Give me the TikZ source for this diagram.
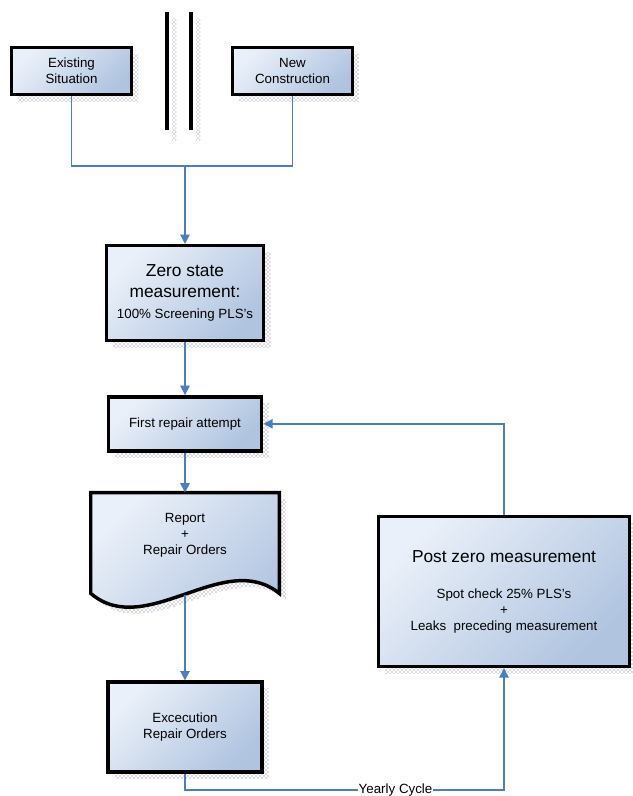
\documentclass[tikz,border=0pt]{standalone}
\usepackage{fontspec}
\setmainfont{Liberation Sans}
\usepackage{tikz}
\usetikzlibrary{arrows.meta,positioning,calc,shadows,patterns,backgrounds}
\definecolor{boxlight}{RGB}{234,240,249}
\definecolor{boxdark}{RGB}{176,196,224}
\definecolor{linkblue}{RGB}{74,126,193}
\definecolor{shadowgray}{RGB}{90,100,125}

\begin{document}
\begin{tikzpicture}[x=0.75pt,y=-0.75pt,>={Triangle[length=7pt,width=7pt]},every node/.style={font=\fontsize{10}{12}\selectfont}]
\tikzstyle{stage}=[draw=black,line width=2.6pt,align=center,top color=boxlight,bottom color=boxdark,shading angle=45,general shadow={shadow xshift=5pt,shadow yshift=-5pt,pattern=crosshatch dots,pattern color=shadowgray}]
\tikzstyle{link}=[draw=linkblue,line width=1.1pt]
\useasboundingbox (0,0) rectangle (632,796);
% separator bars
\foreach \x in {167,191} {
  \fill[pattern=crosshatch dots,pattern color=shadowgray] (\x+5,18) rectangle (\x+9,140);
  \draw[line width=2.6pt] (\x,12) -- (\x,130);
}
\node[stage,minimum width=90pt,minimum height=35pt] (exist) at (71.5,71) {Existing\\Situation};
\node[stage,minimum width=90pt,minimum height=35pt] (newc) at (292.5,71) {New\\Construction};
\node[stage,minimum width=118pt,minimum height=71pt,font=\fontsize{13}{15.75}\selectfont] (zero) at (185,293) {Zero state\\measurement:\\{\fontsize{10}{12}\selectfont 100\% Screening PLS's}};
\node[stage,minimum width=115pt,minimum height=40.5pt,below=39.75pt of zero] (first) {First repair attempt};
\node[minimum width=141pt,minimum height=64pt,align=center,below=30pt of first] (report) {Report\\+\\Repair Orders};
\begin{scope}[on background layer]
\path[stage] (report.north west) -- (report.north east) -- ($(report.south east)+(0,15)$) .. controls +(-55,-45) and +(55,47) .. ($(report.south west)+(0,15)$) -- cycle;
\end{scope}
\node[stage,minimum width=115.5pt,minimum height=67.5pt,below=76.5pt of report] (exec) {Excecution\\Repair Orders};
\node[stage,minimum width=188pt,minimum height=112.5pt] (post) at (504,591.5) {{\fontsize{13}{16}\selectfont Post zero measurement}\\[15pt]Spot check 25\% PLS's\\+\\Leaks\ \ preceding measurement};
% connectors
\coordinate (join) at (zero.north |- 0,166);
\draw[link] (exist.south) |- (join);
\draw[link] (newc.south) |- (join);
\draw[link,->] (join) -- (zero.north);
\draw[link,->] (zero) -- (first);
\draw[link,->] (first) -- (report);
\coordinate (repbot) at ($(report.south)+(0,17)$);
\draw[link,->] (repbot) -- (exec);
\draw[link,->] (exec.south) -- ++(0,16) -| node[pos=0.33,fill=white,inner sep=0.5pt]{Yearly Cycle} (post.south);
\draw[link,->] (post.north) |- (first.east);
\end{tikzpicture}
\end{document}
